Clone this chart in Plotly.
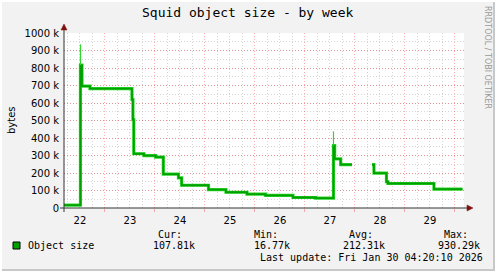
import plotly.graph_objects as go

# ---- data ----
times = [
    "2026-01-22 04:20", "2026-01-22 12:14", "2026-01-22 12:58", "2026-01-22 16:48",
    "2026-01-23 12:58", "2026-01-23 13:25", "2026-01-23 13:50", "2026-01-23 18:43",
    "2026-01-24 00:20", "2026-01-24 04:00", "2026-01-24 11:17", "2026-01-24 12:49",
    "2026-01-25 01:41", "2026-01-25 10:05", "2026-01-25 20:10", "2026-01-26 05:02",
    "2026-01-26 18:14", "2026-01-27 05:08", "2026-01-27 13:41", "2026-01-27 14:15",
    "2026-01-27 17:08", "2026-01-27 22:34", "2026-01-27 22:35", "2026-01-28 08:10",
    "2026-01-28 09:07", "2026-01-28 15:07", "2026-01-28 15:50", "2026-01-29 13:55",
    "2026-01-30 03:36",
]
avg_values = [
    17000, 816000, 697000, 682000,
    620000, 505000, 310000, 299000,
    291000, 194000, 172000, 130000,
    105000, 90000, 79000, 72000,
    60000, 56000, 356000, 281000,
    248000, 248000, None, 248000,
    199000, 150000, 140000, 108000,
    108000,
]
max_values = [
    17000, 935000, 697000, 682000,
    620000, 505000, 310000, 299000,
    291000, 194000, 172000, 130000,
    105000, 90000, 79000, 72000,
    60000, 56000, 438000, 281000,
    248000, 248000, None, 248000,
    199000, 150000, 140000, 108000,
    108000,
]
y_ticks = [0, 100000, 200000, 300000, 400000, 500000, 600000, 700000, 800000, 900000, 1000000]
y_tick_text = ["0", "100 k", "200 k", "300 k", "400 k", "500 k", "600 k", "700 k", "800 k", "900 k", "1000 k"]
x_start = "2026-01-22 04:20:10"
x_end = "2026-01-30 04:20:10"

title = "Squid object size - by week"
series_name = "Object size"
stat_labels = ["Cur:", "Min:", "Avg:", "Max:"]
stat_values = ["107.81k", "16.77k", "212.31k", "930.29k"]
last_update = "Last update: Fri Jan 30 04:20:10 2026"

W, H = 495, 271
L, T, PW, PH = 64, 33, 400, 175


def PX(x):
    return (x - L) / PW


def PY(y):
    return (T + PH - y) / PH


DARK = "#00a000"
BRIGHT = "#2ad82a"
MGRID = "rgba(255,0,0,0.3)"
GRID = "rgba(150,150,150,0.4)"
AXIS = "#333333"
ARROW = "#7f1010"

# spike segments where the max exceeds the average
spike_x, spike_y = [], []
for t, a, m in zip(times, avg_values, max_values):
    if a is not None and m is not None and m > a:
        spike_x += [t, t, None]
        spike_y += [a, m, None]

fig = go.Figure()
fig.add_trace(go.Scatter(x=times, y=avg_values, mode="lines", line=dict(color=BRIGHT, width=3.2, shape="hv"),
                         connectgaps=False, hoverinfo="skip", showlegend=False))
fig.add_trace(go.Scatter(x=times, y=avg_values, mode="lines", line=dict(color=DARK, width=1.8, shape="hv"),
                         connectgaps=False, name=series_name, showlegend=False))
fig.add_trace(go.Scatter(x=spike_x, y=spike_y, mode="lines", line=dict(color=BRIGHT, width=1.2),
                         connectgaps=False, hoverinfo="skip", showlegend=False))

shapes = []
# frame 3D shading
shapes.append(dict(type="rect", xref="paper", yref="paper", x0=PX(0), x1=PX(W), y0=PY(H - 2), y1=PY(H),
                   fillcolor="#c8c8c8", line=dict(width=0), layer="above"))
shapes.append(dict(type="rect", xref="paper", yref="paper", x0=PX(W - 2), x1=PX(W), y0=PY(0), y1=PY(H),
                   fillcolor="#c8c8c8", line=dict(width=0), layer="above"))
shapes.append(dict(type="rect", xref="paper", yref="paper", x0=PX(0), x1=PX(2), y0=PY(H), y1=PY(0),
                   fillcolor="#ffffff", line=dict(width=0), layer="above"))
shapes.append(dict(type="rect", xref="paper", yref="paper", x0=PX(0), x1=PX(W), y0=PY(2), y1=PY(0),
                   fillcolor="#ffffff", line=dict(width=0), layer="above"))
# axis lines
shapes.append(dict(type="line", xref="paper", yref="paper", x0=PX(60), x1=PX(468), y0=PY(208), y1=PY(208),
                   line=dict(color=AXIS, width=1), layer="above"))
shapes.append(dict(type="line", xref="paper", yref="paper", x0=PX(64), x1=PX(64), y0=PY(212), y1=PY(29),
                   line=dict(color=AXIS, width=1), layer="above"))
# arrows
shapes.append(dict(type="path", xref="paper", yref="paper",
                   path=f"M {PX(467)} {PY(205)} L {PX(473)} {PY(208)} L {PX(467)} {PY(211)} Z",
                   fillcolor=ARROW, line=dict(color=ARROW, width=0.5), layer="above"))
shapes.append(dict(type="path", xref="paper", yref="paper",
                   path=f"M {PX(61)} {PY(30)} L {PX(64)} {PY(24)} L {PX(67)} {PY(30)} Z",
                   fillcolor=ARROW, line=dict(color=ARROW, width=0.5), layer="above"))
# legend swatch
shapes.append(dict(type="rect", xref="paper", yref="paper", x0=PX(13), x1=PX(20), y0=PY(249), y1=PY(242),
                   fillcolor=DARK, line=dict(color="#000000", width=1), layer="above"))

MONO = "DejaVu Sans Mono"
SANS = "DejaVu Sans"
ann = []


def text(x, y, s, size=10, family=MONO, anchor="left", color="#000000", angle=0):
    ann.append(dict(xref="paper", yref="paper", x=PX(x), y=PY(y), text=s, showarrow=False,
                    xanchor=anchor, yanchor="middle", textangle=angle,
                    font=dict(family=family, size=size, color=color)))


text(247.5, 13, title, size=13, anchor="center")
text(11, 120, "bytes", size=10, family=SANS, anchor="center", angle=-90)
text(488, 57, "RRDTOOL / TOBI OETIKER", size=8, family=SANS, anchor="center", color="#999999", angle=90)
text(25.5, 245.5, series_name)
stat_x = [156, 252, 347, 442]
val_x = [151, 252, 341, 436]
for sx, lab in zip(stat_x, stat_labels):
    text(sx, 234, lab)
for vx, val in zip(val_x, stat_values):
    text(vx, 245.5, val)
text(258, 257.5, last_update)

fig.update_layout(
    width=W, height=H,
    margin=dict(l=L, r=W - L - PW, t=T, b=H - T - PH, pad=0),
    paper_bgcolor="#f2f2f2", plot_bgcolor="#ffffff",
    showlegend=False,
    shapes=shapes, annotations=ann,
    xaxis=dict(type="date", range=[x_start, x_end], tick0="2026-01-22", dtick=86400000,
               ticklabelmode="period", tickformat="%d", showgrid=True, gridcolor=MGRID,
               griddash="1px,2px", gridwidth=1, zeroline=False, showline=False,
               ticks="outside", ticklen=3, tickcolor=MGRID,
               tickfont=dict(family=SANS, size=10, color="#000000"),
               minor=dict(dtick=21600000, tick0="2026-01-22", showgrid=True, gridcolor=GRID,
                          griddash="1px,2px", gridwidth=1)),
    yaxis=dict(range=[0, 1000000], tickvals=y_ticks, ticktext=y_tick_text, showgrid=True,
               gridcolor=MGRID, griddash="1px,2px", gridwidth=1, zeroline=False, showline=False,
               ticks="", ticklabelstandoff=4,
               tickfont=dict(family=SANS, size=10, color="#000000"),
               minor=dict(dtick=50000, showgrid=True, gridcolor=GRID, griddash="1px,2px", gridwidth=1)),
)

fig.write_html("out.html")
